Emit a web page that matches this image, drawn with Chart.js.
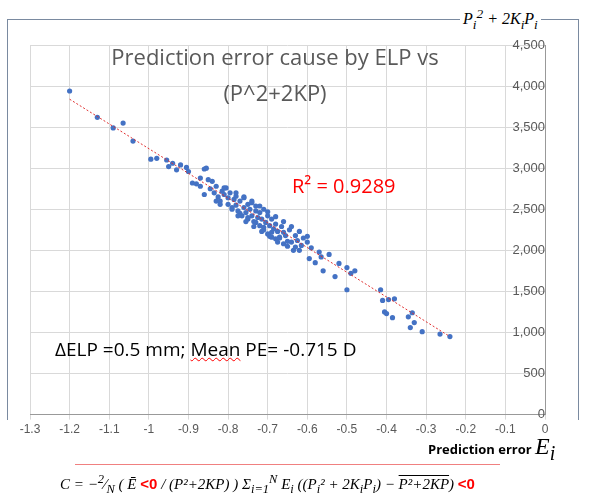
<!DOCTYPE html>
<html><head><meta charset="utf-8">
<script src="https://cdn.jsdelivr.net/npm/chart.js@4"></script>
<style>
body{margin:0;background:#fff;font-family:"Open Sans","Liberation Sans",sans-serif}
#frame{position:absolute;left:7px;top:19px;width:570px;height:400px;border:1px solid #7a8aa0;border-bottom:none}
#ylab{position:absolute;left:460px;top:6px;background:#fff;padding:0 3px;font:italic 16px "Liberation Serif",serif}
#wrap{position:absolute;left:0;top:20px;width:590px;height:420px}
#title{position:absolute;left:90px;top:38px;width:370px;text-align:center;font-size:22px;color:#595959;line-height:36px}
#r2{position:absolute;left:292px;top:172px;color:red;font-size:20px}
#elp{position:absolute;left:55px;top:336px;font-size:19px}
#elp u{text-decoration:underline wavy red;text-decoration-thickness:1px}
#xlab{position:absolute;left:428px;top:433px;font-weight:bold;font-size:13px}
#xlab i{font:italic 24px "Liberation Serif",serif;font-weight:normal}
#rline{position:absolute;left:75px;top:464px;width:425px;border-top:1px solid #f08080}
#formula{position:absolute;left:60px;top:472px;font:italic 15px "Liberation Serif",serif;white-space:nowrap}
#formula b{color:red;font:bold 15px "Liberation Sans",sans-serif;font-style:normal}
</style></head><body>
<div id="frame"></div><div id="ylab">P<sub>i</sub><sup>2</sup> + 2K<sub>i</sub>P<sub>i</sub></div>
<div id="wrap"><canvas id="c" width="590" height="420"></canvas></div>
<div id="title">Prediction error cause by ELP vs<br>(P^2+2KP)</div>
<div id="r2">R² = 0.9289</div>
<div id="elp">ΔELP =0.5 mm; <u>Mean</u> PE= -0.715 D</div>
<div id="xlab">Prediction error <i>E<sub>i</sub></i></div>
<div id="rline"></div>
<div id="formula">C = −<sup>2</sup>⁄<sub>N</sub> ( Ē <b>&lt;0</b> / (P²+2KP) ) Σ<sub>i=1</sub><sup>N</sup> E<sub>i</sub> ((P<sub>i</sub>² + 2K<sub>i</sub>P<sub>i</sub>) − <span style="text-decoration:overline">P²+2KP</span>) <b>&lt;0</b></div>
<script>
const errX = [-1.2,-1.13,-1.09,-1.065,-1.04,-0.995,-0.98,-0.955,-0.95,-0.94,-0.93,-0.92,-0.9,-0.905,-0.89,-0.88,-0.87,-0.86,-0.855,-0.845,-0.84,-0.835,-0.83,-0.825,-0.82,-0.815,-0.81,-0.805,-0.8,-0.8,-0.795,-0.79,-0.785,-0.78,-0.78,-0.775,-0.77,-0.765,-0.76,-0.76,-0.755,-0.75,-0.75,-0.745,-0.74,-0.74,-0.735,-0.73,-0.73,-0.725,-0.72,-0.72,-0.715,-0.71,-0.71,-0.705,-0.7,-0.7,-0.695,-0.69,-0.69,-0.685,-0.68,-0.68,-0.675,-0.67,-0.665,-0.66,-0.66,-0.655,-0.65,-0.645,-0.64,-0.635,-0.63,-0.625,-0.62,-0.615,-0.61,-0.6,-0.595,-0.59,-0.58,-0.57,-0.565,-0.56,-0.545,-0.53,-0.52,-0.5,-0.5,-0.49,-0.48,-0.415,-0.41,-0.405,-0.4,-0.395,-0.385,-0.38,-0.34,-0.335,-0.33,-0.345,-0.31,-0.265,-0.24,-0.86,-0.83,-0.82,-0.79,-0.77,-0.75,-0.73,-0.71,-0.69,-0.67,-0.65,-0.63,-0.81,-0.78,-0.76,-0.74,-0.72,-0.7,-0.68,-0.66,-0.64,-0.62,-0.6,-0.85,-0.87,-0.775,-0.755,-0.735,-0.715,-0.695,-0.675];
const errY = [3940,3620,3490,3550,3330,3110,3120,3100,3020,3060,2980,3040,2960,3010,2820,2810,2780,2990,3000,2750,2840,2700,2780,2650,2600,2720,2680,2760,2560,2640,2700,2500,2620,2550,2660,2480,2600,2420,2520,2640,2460,2380,2560,2500,2420,2600,2350,2480,2540,2400,2300,2460,2380,2250,2500,2340,2200,2420,2300,2160,2380,2260,2140,2320,2230,2150,2290,2080,2220,2180,2050,2250,2100,2000,2180,2120,2000,2060,2150,2100,1900,2030,1850,1980,1920,1750,1950,1680,1840,1790,1520,1720,1750,1520,1390,1250,1230,1400,1180,1410,1060,1240,1120,1190,1010,980,950,2680,2600,2560,2520,2450,2400,2340,2280,2220,2160,2110,2040,2760,2700,2650,2580,2540,2470,2410,2350,2290,2230,2170,2860,2880,2420,2350,2290,2230,2170,2100];
const fitX = [-1.2,-0.24];
const fitY = [3840,950];
const xTicks = [-1.3,-1.2,-1.1,-1,-0.9,-0.8,-0.7,-0.6,-0.5,-0.4,-0.3,-0.2,-0.1,0];

new Chart(document.getElementById('c'), {
  type: 'scatter',
  data: { datasets: [
    { data: fitX.map((x,i)=>({x, y: fitY[i]})), type:'line', borderColor:'#e03030', borderWidth:1, borderDash:[2,2], pointRadius:0, order:0 },
    { data: errX.map((x,i)=>({x, y: errY[i]})), backgroundColor:'#4472c4', borderWidth:0, pointRadius:2.6, order:1 }
  ]},
  options: {
    responsive:false, animation:false,
    layout:{padding:{left:30,right:45,top:25,bottom:0}},
    plugins:{legend:{display:false},tooltip:{enabled:false}},
    scales:{
      x:{type:'linear',min:-1.3,max:0,afterBuildTicks:a=>{a.ticks=xTicks.map(v=>({value:v}));},
        grid:{color:'#d9d9d9',tickLength:5}, border:{color:'#999'},
        ticks:{color:'#595959',font:{size:12},maxRotation:0,autoSkip:false,callback:v=>String(Math.round(v*10)/10)}},
      y:{min:0,max:4500,position:{x:0},grid:{color:'#d9d9d9'},border:{color:'#999'},
        ticks:{stepSize:500,color:'#595959',font:{size:13}}}
    }
  }
});
</script>
</body></html>
